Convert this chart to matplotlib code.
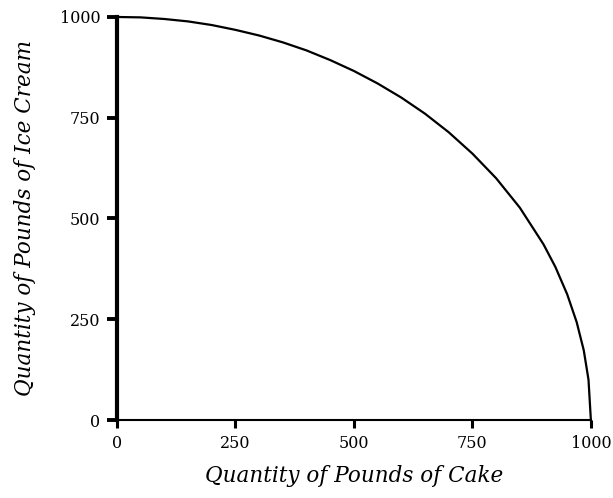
import matplotlib.pyplot as plt

cake = [0, 50, 100, 150, 200, 250, 300, 350, 400, 450, 500, 550, 600, 650,
        700, 750, 800, 850, 900, 925, 950, 970, 985, 995, 1000]
ice_cream = [1000, 999, 995, 989, 980, 968, 954, 937, 917, 893, 866, 835,
             800, 760, 714, 661, 600, 527, 436, 380, 312, 243, 173, 100, 0]
ticks = [0, 250, 500, 750, 1000]

plt.rcParams['font.family'] = ['DejaVu Serif']

fig = plt.figure(figsize=(6.13, 4.98), dpi=100)
ax = fig.add_axes([0.1909, 0.1566, 0.773, 0.8093])

ax.plot(cake, ice_cream, color="black", linewidth=1.6, clip_on=False)

ax.set_xlim(0, 1000)
ax.set_ylim(0, 1000)
ax.set_xticks(ticks)
ax.set_yticks(ticks)

for s in ["top", "right"]:
    ax.spines[s].set_visible(False)
ax.spines["left"].set_linewidth(3)
ax.spines["bottom"].set_linewidth(1.5)

ax.tick_params(axis="y", length=7, width=2.8, labelsize=11.5, pad=5)
ax.tick_params(axis="x", length=6, width=2.2, labelsize=11.5, pad=5)

ax.set_xlabel("Quantity of Pounds of Cake", fontsize=15.5, style="italic", labelpad=9)
ax.set_ylabel("Quantity of Pounds of Ice Cream", fontsize=15.5, style="italic", labelpad=17)

fig.savefig("out.png", dpi=100)
